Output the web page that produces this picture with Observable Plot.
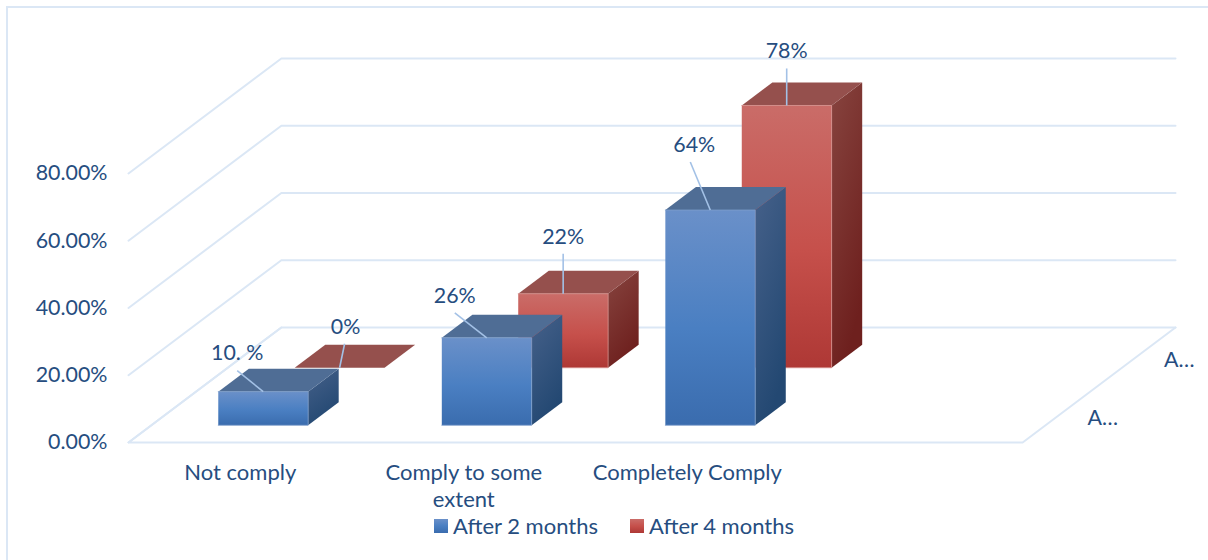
<!DOCTYPE html>
<html>
<head>
<meta charset="utf-8">
<script src="https://cdn.jsdelivr.net/npm/d3@7"></script>
<script src="https://cdn.jsdelivr.net/npm/@observablehq/plot@0.6"></script>
<style>
  html, body { margin: 0; padding: 0; background: #fff; overflow: hidden; }
  #chart { position: relative; width: 1208px; height: 560px; font-family: Lato, "Open Sans", sans-serif; color: #264d80; }
  #chart svg { display: block; position: absolute; left: 0; top: 0; overflow: visible; }
  .border { position: absolute; left: 6px; top: 6px; right: 0; bottom: 0; border-left: 2px solid #dbe7f5; border-top: 2px solid #dbe7f5; }
  .legend { position: absolute; top: 513px; left: 434px; display: flex; font-size: 22px; line-height: 26px; }
  .legend span { display: flex; align-items: center; }
  .legend i { display: inline-block; width: 14px; height: 14px; margin-right: 5px; }
</style>
</head>
<body>
<div id="chart"><div class="border"></div></div>
<script>
// Survey results, in percent
const categories = ["Not comply", "Comply to some\nextent", "Completely Comply"];
const seriesNames = ["After 2 months", "After 4 months"];
const after2Months = [10, 26, 64];
const after4Months = [0, 22, 78];
const after2Labels = ["10. %", "26%", "64%"];
const after4Labels = ["0%", "22%", "78%"];
const valueTicks = [0, 20, 40, 60, 80];

// Oblique projection: a point is (category units, percent, depth 0..1).
const pxPerCategory = 223.75;
const pxPerPercent = 3.3625;
const depthPxX = 153;
const depthPxY = 115;
const skewX = depthPxX / pxPerCategory;
const skewY = depthPxY / pxPerPercent;
const px = (c, depth) => c + depth * skewX;
const py = (v, depth) => v + depth * skewY;
const pt = (c, v, depth) => ({x: px(c, depth), y: py(v, depth)});

const barWidth = 0.402;
const barDepth = 0.2;
const rowCentre = [0.25, 0.75];

const palette = {
  blue: {front: ["#6a90c9", "#4a7fc2", "#3a6cae"], side: ["#46618a", "#234872"], top: "#4f6d95", edge: "#7f9fcb"},
  red: {front: ["#ca6c68", "#c6504b", "#ae3835"], side: ["#87443f", "#6e201e"], top: "#95504d", edge: "#d68f8b"}
};

function gradients() {
  const defs = d3.create("svg:defs");
  for (const [name, p] of Object.entries(palette)) {
    const f = defs.append("linearGradient").attr("id", `front-${name}`).attr("x1", 0).attr("y1", 0).attr("x2", 0).attr("y2", 1);
    [0, 0.55, 1].forEach((o, i) => f.append("stop").attr("offset", o).attr("stop-color", p.front[i]));
    const s = defs.append("linearGradient").attr("id", `side-${name}`).attr("x1", 0).attr("y1", 0).attr("x2", 0.4).attr("y2", 1);
    [0, 1].forEach((o, i) => s.append("stop").attr("offset", o).attr("stop-color", p.side[i]));
  }
  return defs.node();
}

// Faces of one box, painted from the back forward
function boxFaces(cat, value, row, colour) {
  const x0 = cat + (1 - barWidth) / 2, x1 = x0 + barWidth;
  const d0 = rowCentre[row] - barDepth / 2, d1 = d0 + barDepth;
  const top = [pt(x0, value, d0), pt(x1, value, d0), pt(x1, value, d1), pt(x0, value, d1)];
  if (value === 0) return [{points: top, fill: palette[colour].top, stroke: "none"}];
  return [
    {points: [pt(x1, 0, d0), pt(x1, 0, d1), pt(x1, value, d1), pt(x1, value, d0)], fill: `url(#side-${colour})`, stroke: "none"},
    {points: top, fill: palette[colour].top, stroke: "none"},
    {points: [pt(x0, 0, d0), pt(x1, 0, d0), pt(x1, value, d0), pt(x0, value, d0)], fill: `url(#front-${colour})`, stroke: palette[colour].edge}
  ];
}

const faces = [
  ...after4Months.flatMap((v, i) => boxFaces(i, v, 1, "red")),
  ...after2Months.flatMap((v, i) => boxFaces(i, v, 0, "blue"))
];

// Wall gridlines and the floor outline
const gridPaths = valueTicks.map(v => [pt(0, v, 0), pt(0, v, 1), pt(categories.length + 1, v, 1)]);
const floorPath = [pt(0, 0, 1), pt(0, 0, 0), pt(categories.length + 1, 0, 0), pt(categories.length + 1, 0, 1)];

// Callout starts, in pixels from the top centre of each box's front face,
// with a further sideways nudge for the label text
const calloutShift = [
  {series: after2Months, labels: after2Labels, row: 0, shift: [[-26, -21, 0], [-32, -25, 0], [-20, -48, 4]]},
  {series: after4Months, labels: after4Labels, row: 1, shift: [[5, -24, 1], [0, -40, 0], [0, -37, 0]]}
];
const callouts = calloutShift.flatMap(({series, labels, row, shift}) => series.map((v, i) => {
  const anchor = pt(i + 0.5, v, rowCentre[row] - barDepth / 2);
  const [sx, sy, nudge] = shift[i];
  return {
    text: labels[i],
    x1: anchor.x, y1: anchor.y,
    x2: anchor.x + sx / pxPerCategory,
    y2: anchor.y - sy / pxPerPercent,
    labelX: anchor.x + (sx + nudge) / pxPerCategory
  };
}));

const textColour = "#264d80";
const gridColour = "#dbe7f5";
const fontSize = 22;
const tickFontSize = 21.4;

const depthLabels = rowCentre.map((d, i) => ({...pt(categories.length + 1, 0, d), label: "A\u2026", name: seriesNames[i]}));

const plot = Plot.plot({
  width: 1208,
  height: 560,
  marginLeft: 128,
  marginRight: 33,
  marginTop: 58,
  marginBottom: 118,
  style: {background: "transparent", fontFamily: "Lato, 'Open Sans', sans-serif"},
  x: {domain: [0, categories.length + 1 + skewX], axis: null},
  y: {domain: [0, 80 + skewY], axis: null},
  marks: [
    gradients,
    ...gridPaths.map(p => Plot.line(p, {x: "x", y: "y", stroke: gridColour, strokeWidth: 2})),
    Plot.line(floorPath, {x: "x", y: "y", stroke: gridColour, strokeWidth: 2}),
    Plot.axisY({
      ticks: valueTicks, tickSize: 0, tickPadding: 21, anchor: "left", label: null,
      tickFormat: d => d.toFixed(2) + "%", fontSize: tickFontSize, fill: textColour
    }),
    ...faces.map(f => Plot.line(f.points, {x: "x", y: "y", fill: f.fill, stroke: f.stroke, strokeWidth: 0.8})),
    Plot.link(callouts, {x1: "x1", y1: "y1", x2: "x2", y2: "y2", stroke: "#a3c1e6", strokeWidth: 1.6}),
    Plot.text(callouts, {x: "labelX", y: "y2", text: "text", dy: -17, fontSize: tickFontSize, fill: textColour}),
    Plot.text(categories, {
      x: (d, i) => i + 0.5, y: () => 0, text: d => d, dy: 18, lineAnchor: "top",
      lineHeight: 1.24, fontSize, fill: textColour
    }),
    Plot.text(depthLabels, {x: "x", y: "y", text: "label", dx: 42, dy: 4, fontSize: tickFontSize, fill: textColour})
  ]
});

const chart = document.getElementById("chart");
chart.appendChild(plot);

// Legend
const legend = d3.select(chart).append("div").attr("class", "legend");
const swatches = [
  `linear-gradient(${palette.blue.front.join(",")})`,
  `linear-gradient(${palette.red.front.join(",")})`
];
seriesNames.forEach((name, i) => {
  const item = legend.append("span").style("margin-right", i === 0 ? "32px" : null);
  item.append("i").style("background", swatches[i]);
  item.append("b").style("font-weight", "normal").text(name);
});
</script>
</body>
</html>
